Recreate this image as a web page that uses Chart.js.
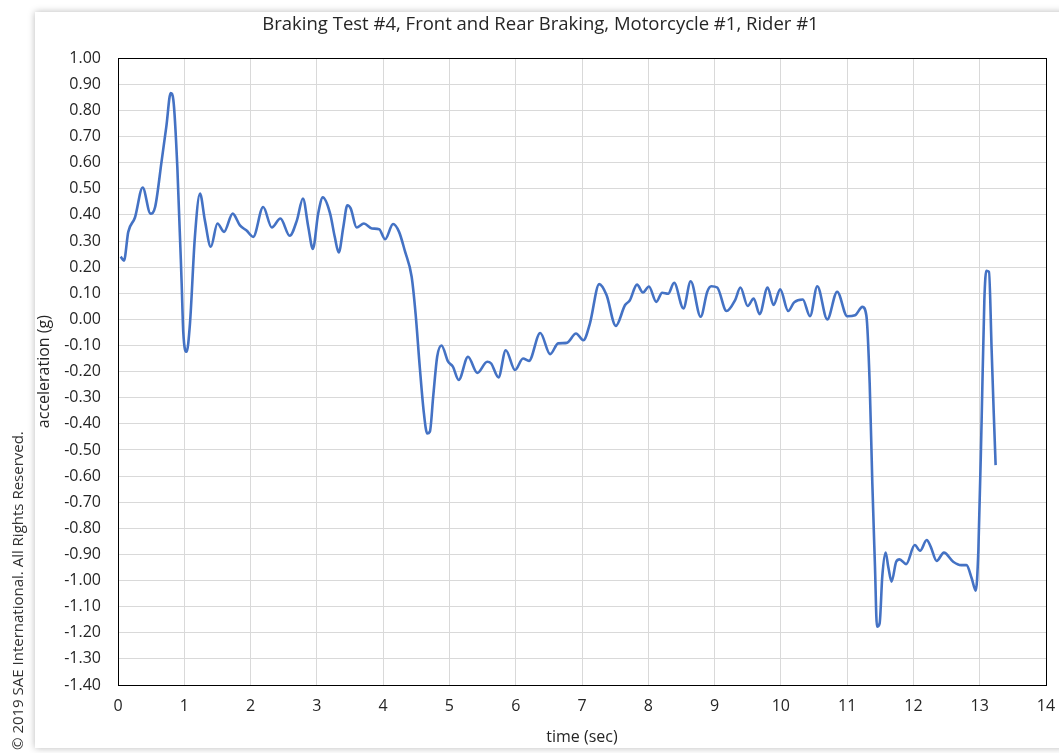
<!DOCTYPE html>
<html lang="en">
<head>
    <meta charset="UTF-8">
    <title>Braking Test #4</title>
    <script src="https://cdn.jsdelivr.net/npm/chart.js"></script>
    <style>
        body {
            margin: 0;
            background-color: #ffffff;
            font-family: "Open Sans", sans-serif;
        }
        #card {
            position: absolute;
            left: 35px;
            top: 12px;
            width: 1030px;
            height: 736px;
            background-color: #ffffff;
            box-shadow: 0 0 7px rgba(0, 0, 0, 0.28);
        }
        #wrap {
            position: absolute;
            left: 0;
            top: 0;
            width: 1059px;
            height: 753px;
        }
        #copyright {
            position: absolute;
            left: 18px;
            top: 750px;
            transform: rotate(-90deg);
            transform-origin: 0 0;
            white-space: nowrap;
            font-size: 15px;
            color: #333333;
            line-height: 1;
            margin-left: -8px;
        }
    </style>
</head>
<body>
    <div id="card"></div>
    <div id="wrap"><canvas id="chart" width="1059" height="753"></canvas></div>
    <div id="copyright">© 2019 SAE International. All Rights Reserved.</div>

    <script>
        // values
        const timeSec = [
            0.04, 0.09, 0.155, 0.256, 0.372, 0.49, 0.56, 0.66, 0.73, 0.795, 0.835, 0.895,
            0.96, 0.985, 1.035, 1.086, 1.16, 1.237, 1.31, 1.4, 1.5, 1.6, 1.73, 1.84,
            1.94, 2.04, 2.19, 2.32, 2.45, 2.59, 2.7, 2.79, 2.87, 2.94, 3.02, 3.09,
            3.2, 3.27, 3.33, 3.4, 3.46, 3.51, 3.6, 3.71, 3.83, 3.94, 4.03, 4.15,
            4.24, 4.33, 4.43, 4.49, 4.555, 4.615, 4.665, 4.705, 4.755, 4.815, 4.88, 4.98,
            5.05, 5.14, 5.28, 5.42, 5.57, 5.63, 5.74, 5.85, 5.99, 6.11, 6.2, 6.37,
            6.52, 6.64, 6.77, 6.91, 7.02, 7.12, 7.26, 7.37, 7.51, 7.65, 7.72, 7.83,
            7.92, 8.01, 8.12, 8.21, 8.3, 8.39, 8.53, 8.64, 8.79, 8.89, 8.95, 9.04,
            9.18, 9.31, 9.39, 9.5, 9.59, 9.68, 9.8, 9.89, 9.99, 10.11, 10.2, 10.33,
            10.44, 10.55, 10.7, 10.85, 11.0, 11.12, 11.23, 11.29, 11.34, 11.38, 11.42, 11.45,
            11.49, 11.53, 11.58, 11.62, 11.67, 11.74, 11.79, 11.89, 12.02, 12.1, 12.2, 12.26,
            12.35, 12.46, 12.6, 12.72, 12.8, 12.88, 12.94, 12.98, 13.03, 13.07, 13.1, 13.14,
            13.18, 13.21, 13.24
        ];
        const accelG = [
            0.24, 0.225, 0.335, 0.39, 0.505, 0.405, 0.43, 0.61, 0.74, 0.867, 0.84, 0.584,
            0.14, -0.05, -0.124, -0.015, 0.316, 0.482, 0.38, 0.278, 0.367, 0.335, 0.405, 0.36,
            0.34, 0.316, 0.43, 0.352, 0.386, 0.32, 0.38, 0.463, 0.355, 0.27, 0.405, 0.467,
            0.405, 0.316, 0.256, 0.355, 0.437, 0.425, 0.352, 0.367, 0.348, 0.345, 0.307, 0.365,
            0.335, 0.26, 0.163, 0.02, -0.19, -0.36, -0.437, -0.43, -0.296, -0.143, -0.10, -0.162,
            -0.18, -0.232, -0.143, -0.205, -0.162, -0.169, -0.222, -0.118, -0.194, -0.15, -0.159, -0.052,
            -0.133, -0.092, -0.09, -0.054, -0.08, -0.015, 0.135, 0.093, -0.025, 0.055, 0.072, 0.133,
            0.103, 0.126, 0.067, 0.102, 0.098, 0.14, 0.042, 0.146, 0.01, 0.106, 0.127, 0.122,
            0.032, 0.074, 0.122, 0.051, 0.08, 0.02, 0.122, 0.055, 0.115, 0.032, 0.065, 0.076,
            0.012, 0.127, 0.0, 0.106, 0.012, 0.016, 0.048, 0.015, -0.245, -0.628, -0.947, -1.177,
            -1.164, -0.985, -0.893, -0.947, -1.004, -0.928, -0.919, -0.937, -0.864, -0.886, -0.845, -0.87,
            -0.925, -0.893, -0.928, -0.941, -0.941, -0.992, -1.039, -0.883, -0.373, 0.074, 0.186, 0.182,
            -0.118, -0.347, -0.558
        ];
        const xTicks = [0, 1, 2, 3, 4, 5, 6, 7, 8, 9, 10, 11, 12, 13, 14];
        const yMin = -1.4, yMax = 1.0, yStep = 0.1;

        const textColor = '#262626';
        const gridColor = '#d9d9d9';

        // black frame round the plot area, like the excel one
        const frame = {
            id: 'frame',
            afterDraw(chart) {
                const a = chart.chartArea;
                const ctx = chart.ctx;
                ctx.save();
                ctx.strokeStyle = '#000000';
                ctx.lineWidth = 1;
                ctx.strokeRect(Math.round(a.left) + 0.5, Math.round(a.top) + 0.5,
                    Math.round(a.right - a.left), Math.round(a.bottom - a.top));
                ctx.restore();
            }
        };

        const points = timeSec.map((t, i) => ({ x: t, y: accelG[i] }));

        const ctx = document.getElementById('chart').getContext('2d');
        new Chart(ctx, {
            type: 'line',
            data: {
                datasets: [{
                    label: 'acceleration',
                    data: points,
                    borderColor: '#4472c4',
                    borderWidth: 2.6,
                    pointRadius: 0,
                    fill: false,
                    cubicInterpolationMode: 'monotone'
                }]
            },
            options: {
                responsive: false,
                animation: false,
                layout: {
                    padding: { left: 35, top: 12, right: 13, bottom: 6 }
                },
                plugins: {
                    legend: { display: false },
                    tooltip: { enabled: false },
                    title: {
                        display: true,
                        text: 'Braking Test #4, Front and Rear Braking, Motorcycle #1, Rider #1',
                        color: textColor,
                        font: { family: 'Open Sans', size: 18.5, weight: 'normal' },
                        padding: { top: 2, bottom: 22 }
                    }
                },
                scales: {
                    x: {
                        type: 'linear',
                        min: 0,
                        max: 14,
                        afterBuildTicks: (scale) => {
                            scale.ticks = xTicks.map(v => ({ value: v }));
                        },
                        afterFit: (scale) => {
                            scale.height = 62;
                            // let the "14" label hang into the page margin
                            scale.paddingLeft = 0;
                            scale.paddingRight = 0;
                        },
                        grid: { color: gridColor, drawTicks: false },
                        border: { display: false },
                        ticks: {
                            color: textColor,
                            font: { family: 'Open Sans', size: 16 },
                            padding: 12,
                            maxRotation: 0
                        },
                        title: {
                            display: true,
                            text: 'time (sec)',
                            color: textColor,
                            font: { family: 'Open Sans', size: 16 },
                            padding: { top: 4, bottom: 0 }
                        }
                    },
                    y: {
                        min: yMin,
                        max: yMax,
                        afterFit: (scale) => { scale.width = 83; },
                        grid: { color: gridColor, drawTicks: false },
                        border: { display: false },
                        ticks: {
                            stepSize: yStep,
                            color: textColor,
                            font: { family: 'Open Sans', size: 16 },
                            padding: 17,
                            callback: (v) => (Math.abs(v) < 1e-9 ? 0 : v).toFixed(2)
                        },
                        title: {
                            display: true,
                            text: 'acceleration (g)',
                            color: textColor,
                            font: { family: 'Open Sans', size: 16 },
                            padding: { top: 0, bottom: 1 }
                        }
                    }
                }
            },
            plugins: [frame]
        });
    </script>
</body>
</html>
